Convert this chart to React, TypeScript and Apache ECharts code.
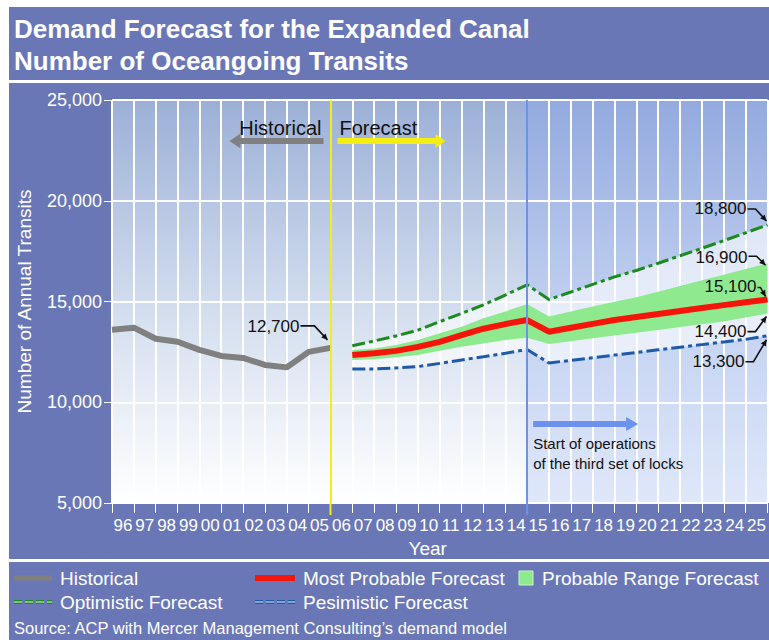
import React, { useEffect, useRef } from 'react';
import * as echarts from 'echarts';

// ---- data ----
const yearLabels = ['96','97','98','99','00','01','02','03','04','05','06','07','08','09','10','11','12','13','14','15','16','17','18','19','20','21','22','23','24','25'];
const yTickMin = 5000;
const yTickMax = 25000;
const yTickStep = 5000;

const historicalStart = 0;
const historical = [13600, 13700, 13150, 13000, 12600, 12300, 12200, 11850, 11730, 12500, 12700];

const forecastStart = 11;
const mostProbable = [12340, 12430, 12550, 12750, 13000, 13330, 13650, 13880, 14080, 13500, 13700, 13890, 14080, 14230, 14380, 14530, 14680, 14820, 14960, 15100];
const rangeUpper = [12590, 12670, 12840, 13090, 13420, 13750, 14170, 14500, 14880, 14250, 14500, 14750, 14990, 15210, 15490, 15770, 16050, 16330, 16610, 16900];
const rangeLower = [12100, 12130, 12230, 12340, 12560, 12750, 12920, 13090, 13200, 12890, 13030, 13170, 13310, 13450, 13590, 13730, 13870, 14010, 14200, 14400];
const optimistic = [12800, 13040, 13290, 13580, 14000, 14410, 14830, 15320, 15830, 15100, 15470, 15850, 16220, 16540, 16900, 17270, 17640, 18020, 18410, 18800];
const pessimistic = [11650, 11650, 11700, 11770, 11930, 12100, 12260, 12430, 12620, 11950, 12080, 12210, 12340, 12470, 12600, 12730, 12860, 12990, 13120, 13300];

const forecastBoundary = 10; // between 05 and 06
const locksBoundary = 19;    // between 14 and 15

const FONT = "'Liberation Sans', Arial, Helvetica, sans-serif";
const PANEL = '#6a77b7';
const C_HIST = '#808080';
const C_RED = '#f5150a';
const C_BAND = '#8fea8f';
const C_OUTER = 'rgba(255,255,255,0.6)';
const C_OPT = '#1b8a1f';
const C_PES = '#1e5aa8';
const C_YEL = '#f4ee12';
const C_LOCK = '#6c91ee';

const fmt = (v: number) => v.toLocaleString('en-US');
const fc = (arr: number[]) => arr.map((v, i) => [forecastStart + i, v]);

function arrowHead(p1: number[], p2: number[], len: number, half: number, color: string) {
  const dx = p2[0] - p1[0];
  const dy = p2[1] - p1[1];
  const L = Math.hypot(dx, dy) || 1;
  const ux = dx / L, uy = dy / L;
  const bx = p2[0] - ux * len, by = p2[1] - uy * len;
  return {
    type: 'polygon',
    z: 20,
    silent: true,
    shape: { points: [[p2[0], p2[1]], [bx - uy * half, by + ux * half], [bx + uy * half, by - ux * half]] },
    style: { fill: color },
  };
}

function hook(points: number[][], color = '#111') {
  const n = points.length;
  return [
    { type: 'polyline', z: 20, silent: true, shape: { points }, style: { stroke: color, lineWidth: 1.6, fill: null } },
    arrowHead(points[n - 2], points[n - 1], 6, 3, color),
  ];
}

function bigArrow(x0: number, x1: number, y: number, t: number, hl: number, hh: number, color: string) {
  const s = Math.sign(x1 - x0);
  const xb = x1 - s * hl;
  return {
    type: 'polygon',
    z: 20,
    silent: true,
    shape: {
      points: [[x0, y - t / 2], [xb, y - t / 2], [xb, y - hh], [x1, y], [xb, y + hh], [xb, y + t / 2], [x0, y + t / 2]],
    },
    style: { fill: color },
  };
}

function txt(text: string, x: number, y: number, size: number, color: string, align = 'left', weight = 'normal') {
  return {
    type: 'text',
    z: 20,
    silent: true,
    style: {
      text, x, y,
      fill: color,
      font: `${weight} ${size}px ${FONT}`,
      align, textAlign: align,
      verticalAlign: 'middle', textVerticalAlign: 'middle',
    },
  };
}

function bandRenderer(fill: string) {
  return (params: any, api: any) => {
    if (params.dataIndex !== 0) return null;
    const n = params.dataInsideLength;
    const top: number[][] = [];
    const bottom: number[][] = [];
    for (let i = 0; i < n; i++) {
      top.push(api.coord([api.value(0, i), api.value(2, i)]));
      bottom.push(api.coord([api.value(0, i), api.value(1, i)]));
    }
    return {
      type: 'polygon',
      shape: { points: top.concat(bottom.reverse()) },
      style: { fill },
    };
  };
}

export default function App() {
  const ref = useRef<HTMLDivElement>(null);

  useEffect(() => {
    document.body.style.margin = '0';
    document.body.style.overflow = 'hidden';
    if (!ref.current) return;
    const chart = echarts.init(ref.current, undefined, { renderer: 'svg' });

    const gradLeft = new echarts.graphic.LinearGradient(0, 0, 0, 1, [
      { offset: 0, color: '#9cb0d7' },
      { offset: 0.55, color: '#d6e0f0' },
      { offset: 1, color: '#ffffff' },
    ]);
    const gradRight = new echarts.graphic.LinearGradient(0, 0, 0, 1, [
      { offset: 0, color: '#93aadf' },
      { offset: 0.55, color: '#c4d3f2' },
      { offset: 1, color: '#dfe7fa' },
    ]);

    const bandData = rangeLower.map((lo, i) => [forecastStart + i, lo, rangeUpper[i]]);
    const outerData = pessimistic.map((lo, i) => [forecastStart + i, lo, optimistic[i]]);

    const option: any = {
      animation: false,
      backgroundColor: '#ffffff',
      grid: { left: 112, right: 1, top: 100, bottom: 137 },
      xAxis: [
        {
          type: 'category',
          data: yearLabels,
          boundaryGap: true,
          z: 1.5,
          name: 'Year',
          nameLocation: 'middle',
          nameGap: 34,
          nameTextStyle: { color: '#ffffff', fontSize: 19, fontFamily: FONT, padding: [0, 24, 0, 0] },
          axisLine: { lineStyle: { color: '#ffffff', width: 1 } },
          axisTick: { show: true, interval: 0, length: 10, lineStyle: { color: '#ffffff', width: 1 } },
          axisLabel: { color: '#ffffff', fontSize: 17, fontFamily: FONT, interval: 0, margin: 14 },
          splitLine: { show: true, interval: 0, lineStyle: { color: '#ffffff', width: 2 } },
        },
        { type: 'value', min: 0, max: yearLabels.length, show: false },
      ],
      yAxis: {
        type: 'value',
        min: yTickMin,
        max: yTickMax,
        interval: yTickStep,
        z: 1.5,
        name: 'Number of Annual Transits',
        nameLocation: 'middle',
        nameGap: 78,
        nameTextStyle: { color: '#ffffff', fontSize: 19, fontFamily: FONT },
        axisLine: { show: true, lineStyle: { color: '#ffffff', width: 1 } },
        axisTick: { show: true, length: 8, lineStyle: { color: '#ffffff' } },
        axisLabel: { color: '#ffffff', fontSize: 18, fontFamily: FONT, margin: 10, formatter: (v: number) => fmt(v) },
        splitLine: { show: true, lineStyle: { color: '#ffffff', width: 2 } },
      },
      series: [
        {
          name: 'background',
          type: 'line',
          xAxisIndex: 1,
          data: [],
          z: 1,
          silent: true,
          markArea: {
            silent: true,
            z: 1,
            data: [
              [{ coord: [0, yTickMax], itemStyle: { color: gradLeft } }, { coord: [locksBoundary, yTickMin] }],
              [{ coord: [locksBoundary, yTickMax], itemStyle: { color: gradRight } }, { coord: [yearLabels.length, yTickMin] }],
            ],
          },
        },
        {
          name: 'Historical',
          type: 'line',
          xAxisIndex: 1,
          data: historical.map((v, i) => [historicalStart + i, v]),
          symbol: 'none',
          z: 3,
          lineStyle: { color: C_HIST, width: 6 },
        },
        {
          name: 'Forecast envelope',
          type: 'custom',
          xAxisIndex: 1,
          data: outerData,
          z: 1.8,
          silent: true,
          encode: { x: 0, y: [1, 2] },
          renderItem: bandRenderer(C_OUTER),
        },
        {
          name: 'Probable Range Forecast',
          type: 'custom',
          xAxisIndex: 1,
          data: bandData,
          z: 2,
          silent: true,
          encode: { x: 0, y: [1, 2] },
          renderItem: bandRenderer(C_BAND),
        },
        {
          name: 'Optimistic Forecast',
          type: 'line',
          xAxisIndex: 1,
          data: fc(optimistic),
          symbol: 'none',
          z: 3,
          lineStyle: { color: C_OPT, width: 3, type: [13, 4, 4, 4] },
        },
        {
          name: 'Pesimistic Forecast',
          type: 'line',
          xAxisIndex: 1,
          data: fc(pessimistic),
          symbol: 'none',
          z: 3,
          lineStyle: { color: C_PES, width: 3, type: [13, 4, 4, 4] },
        },
        {
          name: 'Most Probable Forecast',
          type: 'line',
          xAxisIndex: 1,
          data: fc(mostProbable),
          symbol: 'none',
          z: 4,
          lineStyle: { color: C_RED, width: 6 },
          markLine: {
            silent: true,
            symbol: 'none',
            label: { show: false },
            data: [
              { xAxis: forecastBoundary, lineStyle: { color: C_YEL, width: 2, type: 'solid' } },
              { xAxis: locksBoundary, lineStyle: { color: C_LOCK, width: 2, type: 'solid' } },
            ],
          },
        },
      ],
    };

    chart.setOption(option);

    const P = (x: number, y: number) => chart.convertToPixel({ xAxisIndex: 1, yAxisIndex: 0 }, [x, y]) as number[];
    const gTop = P(0, yTickMax)[1];
    const gBot = P(0, yTickMin)[1];
    const xl = P(forecastBoundary, yTickMin)[0];
    const xb = P(locksBoundary, yTickMin)[0];
    const lastX = forecastStart + mostProbable.length - 1;
    const last = (arr: number[]) => arr[arr.length - 1];

    const els: any[] = [];
    // panel & separators
    els.push({ type: 'rect', z: -10, silent: true, shape: { x: 9, y: 7, width: 780, height: 650 }, style: { fill: PANEL } });
    els.push({ type: 'rect', z: -9, silent: true, shape: { x: 9, y: 80, width: 780, height: 3 }, style: { fill: '#ffffff' } });
    els.push({ type: 'rect', z: -9, silent: true, shape: { x: 9, y: 559, width: 780, height: 3 }, style: { fill: '#ffffff' } });
    // title
    els.push(txt('Demand Forecast for the Expanded Canal', 14, 29, 26, '#ffffff', 'left', 'bold'));
    els.push(txt('Number of Oceangoing Transits', 14, 61, 26, '#ffffff', 'left', 'bold'));

    // divider extensions below the axis
    els.push({ type: 'line', z: 20, silent: true, shape: { x1: xl, y1: gBot, x2: xl, y2: gBot + 12 }, style: { stroke: C_YEL, lineWidth: 2 } });
    els.push({ type: 'line', z: 20, silent: true, shape: { x1: xb, y1: gBot, x2: xb, y2: gBot + 12 }, style: { stroke: C_LOCK, lineWidth: 2 } });

    // Historical / Forecast
    els.push(txt('Historical', xl - 9, gTop + 28, 20, '#111111', 'right'));
    els.push(txt('Forecast', xl + 9, gTop + 28, 20, '#111111', 'left'));
    els.push(bigArrow(xl - 7, xl - 101, gTop + 41, 6, 11, 7.5, C_HIST));
    els.push(bigArrow(xl + 7, xl + 115, gTop + 41, 6, 10, 7, C_YEL));

    // locks
    els.push(bigArrow(xb + 6, xb + 111, gBot - 79, 6, 12, 7, C_LOCK));
    els.push(txt('Start of operations', xb + 6, gBot - 60, 15, '#111111'));
    els.push(txt('of the third set of locks', xb + 6, gBot - 40, 15, '#111111'));

    // value call-outs
    const h = P(historicalStart + historical.length - 1, last(historical));
    els.push(txt(fmt(last(historical)), h[0] - 31, h[1] - 21, 17, '#111111', 'right'));
    els.push(...hook([[h[0] - 30, h[1] - 22], [h[0] - 16, h[1] - 22], [h[0] - 3, h[1] - 8]]));

    const o = P(lastX, last(optimistic));
    els.push(txt(fmt(last(optimistic)), o[0] - 21, o[1] - 16, 17, '#111111', 'right'));
    els.push(...hook([[o[0] - 20, o[1] - 16], [o[0] - 12, o[1] - 16], [o[0] - 1, o[1] - 4]]));

    const u = P(lastX, last(rangeUpper));
    els.push(txt(fmt(last(rangeUpper)), u[0] - 20, u[1] - 6, 17, '#111111', 'right'));
    els.push(...hook([[u[0] - 19, u[1] - 7], [u[0] - 11, u[1] - 7], [u[0] - 2, u[1] + 2]]));

    const m = P(lastX, last(mostProbable));
    els.push(txt(fmt(last(mostProbable)), m[0] - 11, m[1] - 13, 17, '#111111', 'right'));
    els.push(...hook([[m[0] - 10, m[1] - 12], [m[0] - 7, m[1] - 12], [m[0] - 2, m[1] - 3]]));

    const lo = P(lastX, last(rangeLower));
    els.push(txt(fmt(last(rangeLower)), lo[0] - 21, lo[1] + 18, 17, '#111111', 'right'));
    els.push(...hook([[lo[0] - 20, lo[1] + 18], [lo[0] - 12, lo[1] + 18], [lo[0] - 1, lo[1] + 3]]));

    const pe = P(lastX, last(pessimistic));
    els.push(txt(fmt(last(pessimistic)), pe[0] - 23, pe[1] + 26, 17, '#111111', 'right'));
    els.push(...hook([[pe[0] - 22, pe[1] + 26], [pe[0] - 14, pe[1] + 26], [pe[0] - 1, pe[1] + 4]]));

    // legend
    const r1 = 578, r2 = 602;
    els.push({ type: 'line', z: 20, silent: true, shape: { x1: 14, y1: r1, x2: 52, y2: r1 }, style: { stroke: C_HIST, lineWidth: 5 } });
    els.push(txt('Historical', 60, r1, 19, '#ffffff'));
    els.push({ type: 'line', z: 20, silent: true, shape: { x1: 255, y1: r1, x2: 295, y2: r1 }, style: { stroke: C_RED, lineWidth: 6 } });
    els.push(txt('Most Probable Forecast', 303, r1, 19, '#ffffff'));
    els.push({ type: 'rect', z: 20, silent: true, shape: { x: 519, y: r1 - 7, width: 14, height: 14 }, style: { fill: C_BAND, stroke: '#c8f5c8', lineWidth: 1 } });
    els.push(txt('Probable Range Forecast', 542, r1, 19, '#ffffff'));
    els.push({ type: 'line', z: 20, silent: true, shape: { x1: 14, y1: r2, x2: 52, y2: r2 }, style: { stroke: C_OPT, lineWidth: 4, lineDash: [8, 3] } });
    els.push({ type: 'line', z: 21, silent: true, shape: { x1: 14, y1: r2, x2: 52, y2: r2 }, style: { stroke: '#e8f5e8', lineWidth: 1, lineDash: [8, 3] } });
    els.push(txt('Optimistic Forecast', 60, r2, 19, '#ffffff'));
    els.push({ type: 'line', z: 20, silent: true, shape: { x1: 255, y1: r2, x2: 295, y2: r2 }, style: { stroke: C_PES, lineWidth: 4, lineDash: [8, 3] } });
    els.push({ type: 'line', z: 21, silent: true, shape: { x1: 255, y1: r2, x2: 295, y2: r2 }, style: { stroke: '#e8eef8', lineWidth: 1, lineDash: [8, 3] } });
    els.push(txt('Pesimistic Forecast', 303, r2, 19, '#ffffff'));
    els.push(txt('Source: ACP with Mercer Management Consulting\u2019s demand model', 14, 628, 16.5, '#ffffff'));

    chart.setOption({ graphic: { elements: els } });

    return () => chart.dispose();
  }, []);

  return <div ref={ref} style={{ width: 769, height: 640 }} />;
}
